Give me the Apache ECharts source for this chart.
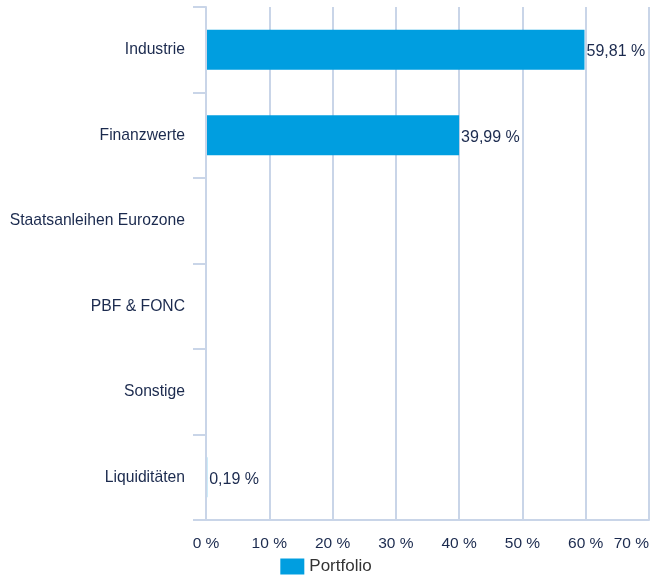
<!DOCTYPE html>
<html>
<head>
<meta charset="utf-8">
<script src="https://cdn.jsdelivr.net/npm/echarts@6/dist/echarts.min.js"></script>
<style>
  html, body { margin: 0; padding: 0; background: #fff; }
  #chart { width: 652px; height: 581px; }
</style>
</head>
<body>
<div id="chart"></div>
<script>
// Sector allocation of the portfolio (percent)
const categories = ['Industrie', 'Finanzwerte', 'Staatsanleihen Eurozone', 'PBF & FONC', 'Sonstige', 'Liquiditäten'];
const portfolioValues = [59.81, 39.99, null, null, null, 0.19];
const seriesName = 'Portfolio';

const fmt = v => v.toFixed(2).replace('.', ',') + ' %';
const axisColor = '#c9d5e8';
const textColor = '#1b2a4e';
const fontFamily = 'Liberation Sans, Arial, Helvetica, sans-serif';

const chart = echarts.init(document.getElementById('chart'));
chart.setOption({
  animation: false,
  grid: { left: 206, right: 2, top: 7, bottom: 61, containLabel: false },
  legend: {
    bottom: 1,
    left: 'center',
    icon: 'rect',
    itemWidth: 24,
    itemHeight: 16,
    itemGap: 10,
    textStyle: { color: '#333', fontSize: 17, fontFamily }
  },
  xAxis: {
    type: 'value',
    min: 0,
    max: 70,
    interval: 10,
    axisLine: { show: true, lineStyle: { color: axisColor, width: 2 } },
    axisTick: { show: false },
    splitLine: { show: true, lineStyle: { color: axisColor, width: 2 } },
    axisLabel: {
      color: textColor,
      fontSize: 15.5,
      fontFamily,
      margin: 16,
      alignMaxLabel: 'right',
      formatter: v => v + ' %'
    }
  },
  yAxis: {
    type: 'category',
    data: categories,
    inverse: true,
    z: 5,
    axisLine: { show: true, lineStyle: { color: axisColor, width: 2 } },
    axisTick: { show: true, length: 13, lineStyle: { color: axisColor, width: 2 } },
    axisLabel: { color: textColor, fontSize: 15.7, fontFamily, margin: 21, padding: [3, 0, 0, 0] }
  },
  series: [{
    name: seriesName,
    type: 'bar',
    data: portfolioValues,
    barWidth: 40,
    itemStyle: { color: '#009ee0' },
    label: {
      show: true,
      position: 'right',
      distance: 2,
      offset: [0, 2],
      color: textColor,
      fontSize: 16,
      fontFamily,
      formatter: p => p.value == null ? '' : fmt(p.value)
    }
  }]
});
</script>
</body>
</html>
